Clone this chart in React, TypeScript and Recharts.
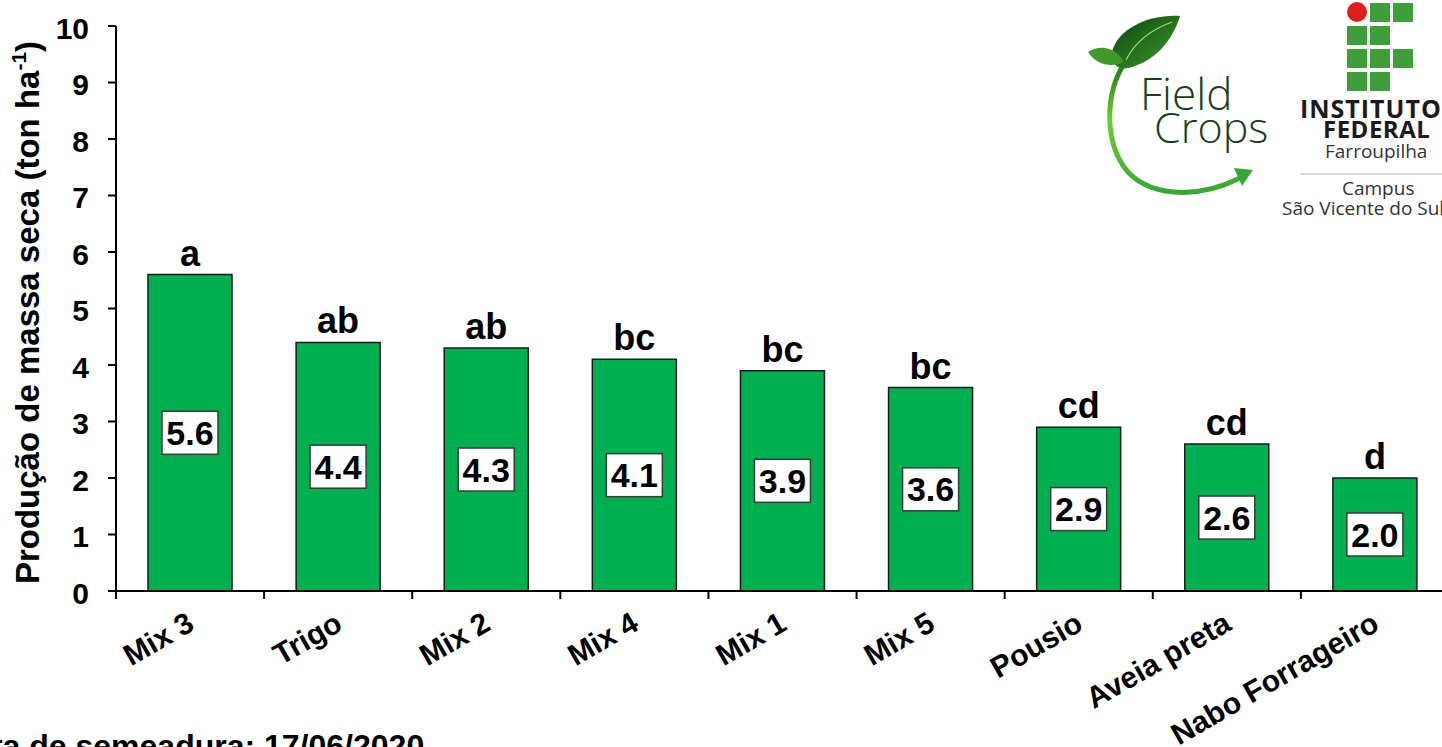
import React from "react";
import { BarChart, Bar, XAxis, YAxis, LabelList, Label } from "recharts";

// Dry mass production per cover crop treatment (ton/ha) and Tukey groups
const categories = [
  "Mix 3",
  "Trigo",
  "Mix 2",
  "Mix 4",
  "Mix 1",
  "Mix 5",
  "Pousio",
  "Aveia preta",
  "Nabo Forrageiro",
];
const production = [5.6, 4.4, 4.3, 4.1, 3.9, 3.6, 2.9, 2.6, 2.0];
const groups = ["a", "ab", "ab", "bc", "bc", "bc", "cd", "cd", "d"];
const yTicks = [0, 1, 2, 3, 4, 5, 6, 7, 8, 9, 10];

const data = categories.map((name, i) => ({
  name,
  value: production[i],
  group: groups[i],
}));

const CHART_W = 1500;
const CHART_H = 747;
const MARGIN = { top: 26, right: 51, left: 0, bottom: 0 };
const Y_AXIS_W = 116;
const PLOT_W = CHART_W - MARGIN.left - MARGIN.right - Y_AXIS_W;
const BAND = PLOT_W / categories.length;

const FONT = "'Liberation Sans', Arial, sans-serif";
const BAR_GREEN = "#00B050";

// category ticks sit on the band boundaries, labels are slanted
const XTick = (props: any) => {
  const { x, y, payload } = props;
  const edge = x - BAND / 2;
  return (
    <g>
      <line x1={edge} x2={edge} y1={y - 8} y2={y} stroke="#000" strokeWidth={2} />
      <text
        transform={`translate(${x + 6},${y + 30}) rotate(-30)`}
        textAnchor="end"
        fontFamily={FONT}
        fontWeight="bold"
        fontSize={30}
        fill="#000"
      >
        {payload.value}
      </text>
    </g>
  );
};

const ValueBox = (props: any) => {
  const { x, y, width, height, value } = props;
  const cx = Number(x) + Number(width) / 2;
  const cy = Number(y) + Number(height) / 2;
  return (
    <g>
      <rect x={cx - 28} y={cy - 21.5} width={56} height={43} fill="#fff" stroke="#3a3a3a" strokeWidth={1.5} />
      <text
        x={cx}
        y={cy + 12}
        textAnchor="middle"
        fontFamily={FONT}
        fontWeight="bold"
        fontSize={34}
        fill="#000"
      >
        {Number(value).toFixed(1)}
      </text>
    </g>
  );
};

const GroupLetter = (props: any) => {
  const { x, y, width, value } = props;
  return (
    <text
      x={Number(x) + Number(width) / 2}
      y={Number(y) - 9}
      textAnchor="middle"
      fontFamily={FONT}
      fontWeight="bold"
      fontSize={36}
      fill="#000"
    >
      {value}
    </text>
  );
};

const YTitle = (props: any) => {
  const { viewBox } = props;
  const cy = viewBox.y + viewBox.height / 2 + 4;
  return (
    <text
      transform={`translate(39,${cy}) rotate(-90)`}
      textAnchor="middle"
      fontFamily={FONT}
      fontWeight="bold"
      fontSize={33}
      fill="#000"
    >
      Produção de massa seca (ton ha
      <tspan dy={-13} fontSize={21}>-1</tspan>
      <tspan dy={13}>)</tspan>
    </text>
  );
};

const FieldCropsLogo = () => (
  <g>
    <defs>
      <linearGradient id="fcArc" x1="0" y1="0" x2="0" y2="1">
        <stop offset="0%" stopColor="#1f7a1f" />
        <stop offset="45%" stopColor="#6ccf2e" />
        <stop offset="100%" stopColor="#35a834" />
      </linearGradient>
      <linearGradient id="fcLeaf" x1="0" y1="0" x2="1" y2="1">
        <stop offset="0%" stopColor="#0c4210" />
        <stop offset="100%" stopColor="#3f9d2c" />
      </linearGradient>
    </defs>
    {/* leaves */}
    <path d="M1180 16 C1150 14 1118 28 1112 52 C1110 64 1118 70 1128 68 C1154 62 1172 42 1180 16 Z" fill="url(#fcLeaf)" />
    <path d="M1172 22 C1150 30 1135 42 1126 60" stroke="#9fdc7a" strokeWidth={1.2} fill="none" />
    <path d="M1088 52 C1100 44 1116 47 1124 62 C1112 68 1096 65 1088 52 Z" fill="#3e9b2a" />
    {/* arc and arrow */}
    <path
      d="M1124 64 C1106 92 1104 138 1124 167 C1146 197 1196 200 1240 178"
      stroke="url(#fcArc)"
      strokeWidth={5}
      fill="none"
      strokeLinecap="round"
    />
    <path d="M1234 168 L1253 170 L1242 186 Z" fill="#36a834" />
    <text x={1140} y={110} fontFamily="'Open Sans', sans-serif" fontWeight={300} fontSize={44} fill="#173f17">
      Field
    </text>
    <text x={1154} y={143} fontFamily="'Open Sans', sans-serif" fontWeight={300} fontSize={43} fill="#173f17">
      Crops
    </text>
  </g>
);

const ifSquares = [
  [0, 1], [0, 2],
  [1, 0], [1, 1],
  [2, 0], [2, 1], [2, 2],
  [3, 0], [3, 1],
];

const InstitutoLogo = () => (
  <g fontFamily="'Open Sans', sans-serif">
    <circle cx={1357} cy={12} r={10} fill="#e01e1e" />
    {ifSquares.map(([r, c]) => (
      <rect key={`${r}-${c}`} x={1347 + c * 23} y={3 + r * 23} width={20} height={19} fill="#3e9e3a" />
    ))}
    <text x={1300} y={118} fontWeight="bold" fontSize={25} letterSpacing={1} fill="#1a1a1a">INSTITUTO</text>
    <text x={1323} y={138} fontWeight="bold" fontSize={24} letterSpacing={0.5} fill="#1a1a1a">FEDERAL</text>
    <text x={1325} y={158} fontSize={19} fill="#333">Farroupilha</text>
    <line x1={1300} x2={1442} y1={174} y2={174} stroke="#c9d6b8" strokeWidth={1.5} />
    <text x={1342} y={195} fontSize={19} fill="#333">Campus</text>
    <text x={1282} y={215} fontSize={19} fill="#333">São Vicente do Sul</text>
  </g>
);

export default function App() {
  return (
    <div
      style={{
        position: "absolute",
        left: 0,
        top: 0,
        width: 1442,
        height: 747,
        overflow: "hidden",
        background: "#fff",
      }}
    >
      <BarChart width={CHART_W} height={CHART_H} data={data} margin={MARGIN}>
        <YAxis
          width={Y_AXIS_W}
          domain={[0, 10]}
          ticks={yTicks}
          interval={0}
          axisLine={{ stroke: "#000", strokeWidth: 2 }}
          tickLine={{ stroke: "#000", strokeWidth: 2 }}
          tickSize={8}
          tickMargin={19}
          tick={{ fontFamily: FONT, fontWeight: "bold", fontSize: 30, fill: "#000", dy: 2 }}
        >
          <Label content={YTitle} />
        </YAxis>
        <XAxis
          dataKey="name"
          interval={0}
          height={CHART_H - 591}
          axisLine={{ stroke: "#000", strokeWidth: 2 }}
          tickLine={false}
          tickSize={8}
          tickMargin={0}
          tick={XTick}
        />
        <Bar
          dataKey="value"
          fill={BAR_GREEN}
          stroke="#1a1a1a"
          strokeWidth={1.5}
          barSize={84}
          isAnimationActive={false}
        >
          <LabelList dataKey="value" content={ValueBox} />
          <LabelList dataKey="group" content={GroupLetter} />
        </Bar>
      </BarChart>
      <svg
        width={1442}
        height={747}
        style={{ position: "absolute", left: 0, top: 0, pointerEvents: "none" }}
      >
        <FieldCropsLogo />
        <InstitutoLogo />
        <text x={-49} y={757} fontFamily={FONT} fontWeight="bold" fontSize={32} fill="#000">
          Data de semeadura: 17/06/2020
        </text>
      </svg>
    </div>
  );
}
